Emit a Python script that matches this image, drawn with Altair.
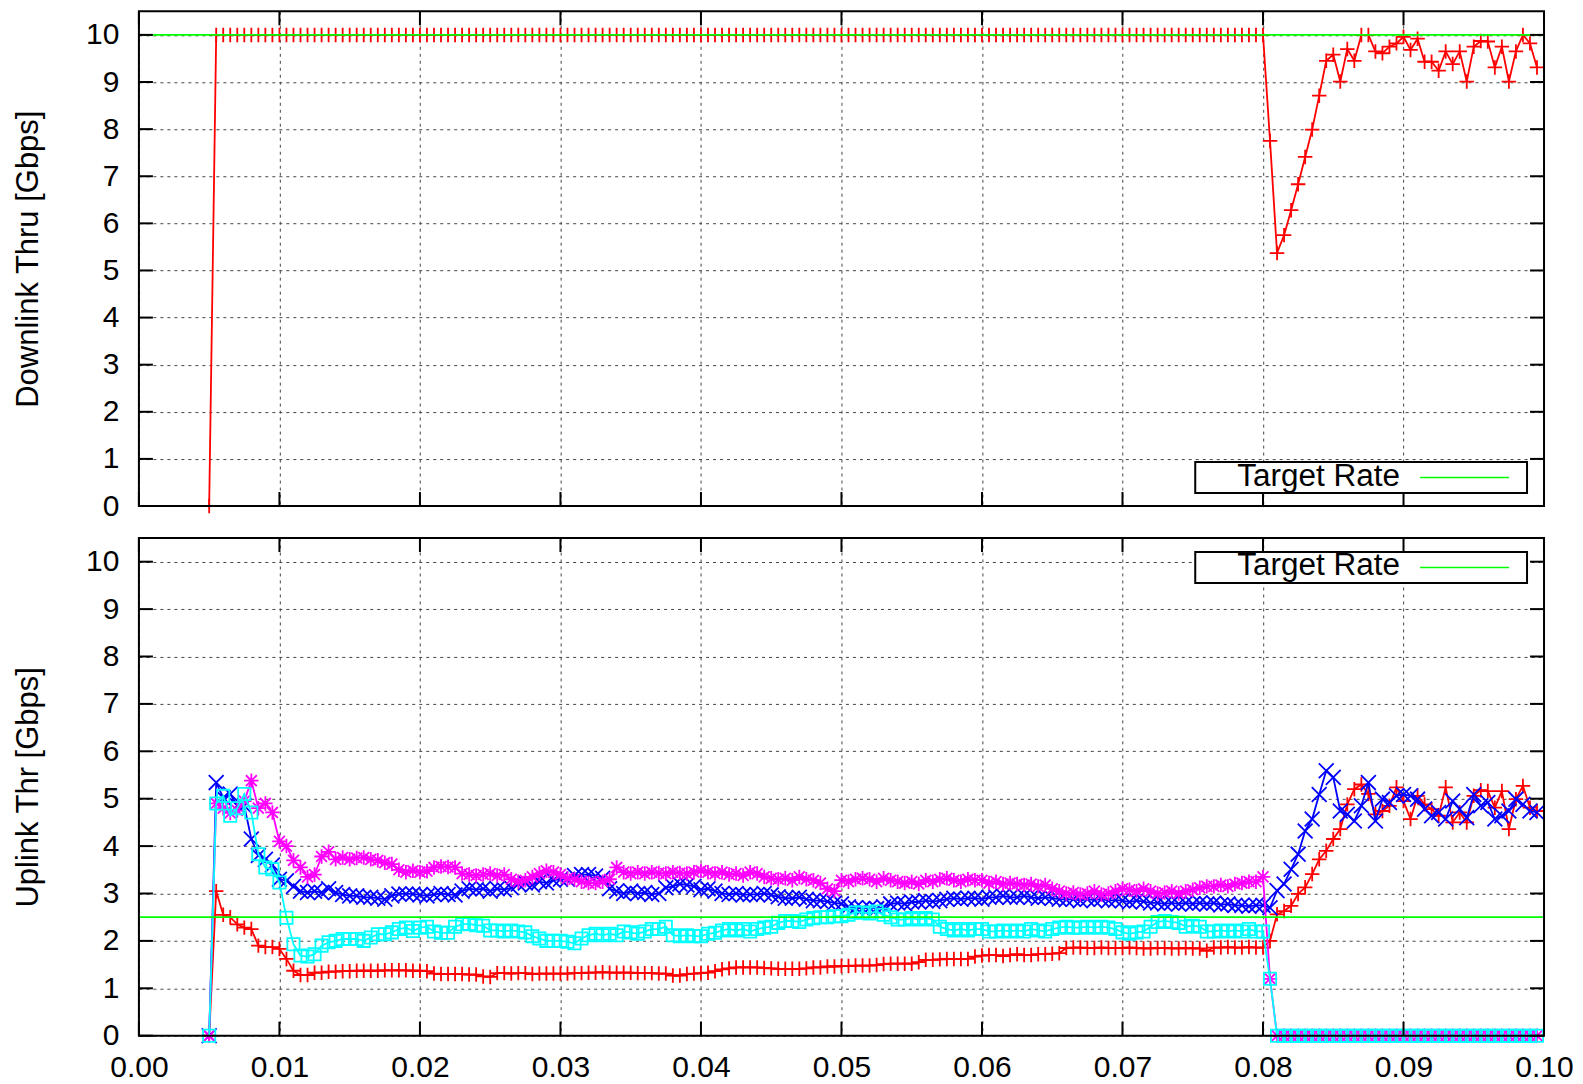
import altair as alt
import pandas as pd

# ---------------- data ----------------
T_START = 0.005
T_STEP = 0.0005

RED_DL = [
    0, 10, 10, 10, 10, 10, 10, 10, 10, 10,
    10, 10, 10, 10, 10, 10, 10, 10, 10, 10,
    10, 10, 10, 10, 10, 10, 10, 10, 10, 10,
    10, 10, 10, 10, 10, 10, 10, 10, 10, 10,
    10, 10, 10, 10, 10, 10, 10, 10, 10, 10,
    10, 10, 10, 10, 10, 10, 10, 10, 10, 10,
    10, 10, 10, 10, 10, 10, 10, 10, 10, 10,
    10, 10, 10, 10, 10, 10, 10, 10, 10, 10,
    10, 10, 10, 10, 10, 10, 10, 10, 10, 10,
    10, 10, 10, 10, 10, 10, 10, 10, 10, 10,
    10, 10, 10, 10, 10, 10, 10, 10, 10, 10,
    10, 10, 10, 10, 10, 10, 10, 10, 10, 10,
    10, 10, 10, 10, 10, 10, 10, 10, 10, 10,
    10, 10, 10, 10, 10, 10, 10, 10, 10, 10,
    10, 10, 10, 10, 10, 10, 10, 10, 10, 10,
    10, 7.75, 5.37, 5.75, 6.28, 6.83, 7.41, 7.99, 8.71, 9.45,
    9.58, 9.01, 9.70, 9.45, 10.0, 10.0, 9.65, 9.61, 9.75, 9.82,
    9.96, 9.68, 9.92, 9.43, 9.43, 9.24, 9.65, 9.38, 9.65, 9.01,
    9.75, 9.87, 9.86, 9.31, 9.75, 9.01, 9.65, 10.0, 9.82, 9.31,
]

RED_UL = [
    0, 3.05, 2.55, 2.50, 2.35, 2.28, 2.25, 1.90, 1.87, 1.87,
    1.83, 1.62, 1.37, 1.28, 1.28, 1.33, 1.33, 1.35, 1.35, 1.36,
    1.36, 1.37, 1.37, 1.37, 1.37, 1.38, 1.38, 1.38, 1.38, 1.37,
    1.37, 1.36, 1.31, 1.30, 1.30, 1.30, 1.30, 1.29, 1.29, 1.25,
    1.24, 1.32, 1.32, 1.31, 1.32, 1.32, 1.30, 1.31, 1.31, 1.31,
    1.31, 1.31, 1.32, 1.32, 1.33, 1.33, 1.34, 1.33, 1.33, 1.33,
    1.33, 1.32, 1.32, 1.32, 1.31, 1.31, 1.27, 1.27, 1.30, 1.31,
    1.32, 1.33, 1.36, 1.40, 1.42, 1.44, 1.44, 1.44, 1.44, 1.43,
    1.42, 1.41, 1.41, 1.41, 1.41, 1.42, 1.44, 1.44, 1.46, 1.46,
    1.47, 1.47, 1.48, 1.48, 1.48, 1.49, 1.51, 1.52, 1.52, 1.52,
    1.52, 1.55, 1.60, 1.60, 1.61, 1.62, 1.62, 1.62, 1.62, 1.67,
    1.69, 1.70, 1.70, 1.68, 1.70, 1.72, 1.70, 1.70, 1.72, 1.72,
    1.73, 1.74, 1.85, 1.86, 1.86, 1.85, 1.85, 1.86, 1.85, 1.85,
    1.85, 1.86, 1.85, 1.84, 1.84, 1.85, 1.85, 1.84, 1.84, 1.85,
    1.84, 1.84, 1.79, 1.86, 1.86, 1.87, 1.86, 1.86, 1.87, 1.86,
    1.86, 2.00, 2.56, 2.63, 2.74, 2.99, 3.13, 3.41, 3.72, 3.90,
    4.15, 4.36, 4.88, 5.20, 5.30, 5.10, 4.67, 4.74, 4.85, 5.24,
    4.95, 4.57, 5.06, 4.88, 4.78, 4.64, 5.24, 4.50, 4.71, 4.50,
    5.06, 5.18, 5.16, 4.81, 5.16, 4.36, 4.99, 5.27, 4.81, 4.74,
]

BLUE_UL = [
    0, 5.34, 5.02, 5.10, 4.85, 4.85, 4.15, 3.80, 3.72, 3.60,
    3.30, 3.27, 3.15, 3.05, 3.02, 3.05, 3.02, 3.10, 3.02, 2.98,
    2.95, 2.95, 2.92, 2.92, 2.90, 2.88, 2.95, 2.99, 2.99, 2.99,
    2.97, 2.95, 2.98, 3.00, 2.98, 2.97, 3.05, 3.10, 3.08, 3.10,
    3.05, 3.10, 3.08, 3.12, 3.20, 3.22, 3.18, 3.25, 3.22, 3.28,
    3.30, 3.30, 3.38, 3.40, 3.40, 3.37, 3.32, 3.10, 3.05, 3.00,
    3.05, 3.00, 3.02, 2.98, 3.00, 3.12, 3.15, 3.20, 3.18, 3.15,
    3.08, 3.10, 3.05, 3.00, 2.98, 3.00, 2.97, 2.98, 2.98, 3.00,
    2.97, 2.93, 2.90, 2.90, 2.92, 2.88, 2.85, 2.85, 2.83, 2.80,
    2.78, 2.72, 2.70, 2.68, 2.70, 2.68, 2.72, 2.78, 2.80, 2.78,
    2.82, 2.82, 2.85, 2.83, 2.85, 2.88, 2.90, 2.88, 2.90, 2.90,
    2.88, 2.92, 2.92, 2.95, 2.92, 2.92, 2.95, 2.92, 2.90, 2.92,
    2.90, 2.88, 2.87, 2.88, 2.85, 2.88, 2.86, 2.88, 2.85, 2.86,
    2.85, 2.82, 2.85, 2.83, 2.80, 2.80, 2.78, 2.80, 2.78, 2.80,
    2.78, 2.80, 2.78, 2.80, 2.76, 2.78, 2.75, 2.75, 2.73, 2.75,
    2.75, 2.70, 3.06, 3.20, 3.51, 3.83, 4.32, 4.57, 5.09, 5.59,
    5.45, 4.74, 4.67, 4.53, 4.85, 5.34, 4.53, 4.99, 4.92, 5.06,
    5.09, 5.06, 4.99, 4.78, 4.64, 4.71, 4.57, 4.95, 4.78, 4.60,
    5.09, 4.85, 4.92, 4.57, 4.64, 4.74, 4.99, 4.88, 4.74, 4.71,
]

MAGENTA_UL = [
    0, 4.90, 4.80, 4.70, 4.75, 4.95, 5.38, 4.80, 4.90, 4.71,
    4.10, 4.00, 3.70, 3.55, 3.35, 3.40, 3.78, 3.88, 3.72, 3.76,
    3.72, 3.75, 3.76, 3.72, 3.70, 3.65, 3.62, 3.50, 3.45, 3.48,
    3.45, 3.47, 3.55, 3.57, 3.56, 3.55, 3.42, 3.40, 3.38, 3.40,
    3.42, 3.38, 3.40, 3.30, 3.25, 3.28, 3.35, 3.42, 3.48, 3.45,
    3.40, 3.32, 3.30, 3.25, 3.22, 3.22, 3.25, 3.30, 3.55, 3.45,
    3.42, 3.45, 3.42, 3.45, 3.43, 3.42, 3.45, 3.43, 3.42, 3.45,
    3.48, 3.45, 3.42, 3.45, 3.40, 3.42, 3.38, 3.45, 3.42, 3.35,
    3.32, 3.30, 3.32, 3.28, 3.35, 3.30, 3.28, 3.22, 3.10, 3.05,
    3.28, 3.25, 3.30, 3.32, 3.30, 3.25, 3.32, 3.28, 3.25, 3.22,
    3.25, 3.20, 3.28, 3.25, 3.30, 3.32, 3.28, 3.25, 3.30, 3.28,
    3.28, 3.22, 3.25, 3.20, 3.22, 3.20, 3.18, 3.20, 3.15, 3.18,
    3.10, 3.05, 3.00, 3.02, 2.98, 3.00, 3.05, 2.98, 3.00, 3.05,
    3.10, 3.08, 3.05, 3.10, 3.05, 3.00, 3.02, 3.05, 3.00, 3.05,
    3.08, 3.12, 3.15, 3.15, 3.18, 3.15, 3.20, 3.22, 3.25, 3.25,
    3.35, 1.20, 0, 0, 0, 0, 0, 0, 0, 0,
    0, 0, 0, 0, 0, 0, 0, 0, 0, 0,
    0, 0, 0, 0, 0, 0, 0, 0, 0, 0,
    0, 0, 0, 0, 0, 0, 0, 0, 0, 0,
]

CYAN_UL = [
    0, 4.90, 5.06, 4.64, 4.80, 5.10, 4.71, 3.83, 3.55, 3.51,
    3.23, 2.49, 1.93, 1.69, 1.67, 1.72, 1.90, 1.97, 2.00, 2.04,
    2.04, 2.04, 2.00, 2.07, 2.14, 2.14, 2.18, 2.25, 2.28, 2.21,
    2.28, 2.30, 2.20, 2.17, 2.17, 2.30, 2.35, 2.36, 2.33, 2.32,
    2.22, 2.22, 2.20, 2.22, 2.20, 2.18, 2.10, 2.05, 2.00, 2.00,
    2.00, 1.98, 1.95, 2.05, 2.12, 2.15, 2.12, 2.15, 2.12, 2.20,
    2.18, 2.15, 2.20, 2.25, 2.25, 2.30, 2.12, 2.10, 2.12, 2.10,
    2.10, 2.15, 2.17, 2.22, 2.25, 2.22, 2.25, 2.20, 2.25, 2.28,
    2.30, 2.38, 2.42, 2.42, 2.40, 2.45, 2.48, 2.50, 2.50, 2.52,
    2.52, 2.55, 2.60, 2.60, 2.58, 2.62, 2.55, 2.50, 2.45, 2.45,
    2.48, 2.45, 2.48, 2.45, 2.30, 2.25, 2.22, 2.25, 2.22, 2.25,
    2.25, 2.20, 2.20, 2.22, 2.20, 2.22, 2.20, 2.25, 2.22, 2.20,
    2.25, 2.28, 2.30, 2.28, 2.28, 2.30, 2.28, 2.30, 2.28, 2.25,
    2.18, 2.15, 2.18, 2.20, 2.30, 2.40, 2.42, 2.40, 2.38, 2.30,
    2.32, 2.30, 2.20, 2.20, 2.22, 2.20, 2.22, 2.20, 2.25, 2.20,
    2.20, 1.20, 0, 0, 0, 0, 0, 0, 0, 0,
    0, 0, 0, 0, 0, 0, 0, 0, 0, 0,
    0, 0, 0, 0, 0, 0, 0, 0, 0, 0,
    0, 0, 0, 0, 0, 0, 0, 0, 0, 0,
]

TARGET_DL = [10.0]
TARGET_UL = [2.5]
LEGEND_LABELS = ["Target Rate"]
X_TICKS = [0.00, 0.01, 0.02, 0.03, 0.04, 0.05, 0.06, 0.07, 0.08, 0.09, 0.10]
Y_TICKS = [0, 1, 2, 3, 4, 5, 6, 7, 8, 9, 10]
Y_TITLES = ["Downlink Thru [Gbps]", "Uplink Thr [Gbps]"]

T = [round(T_START + T_STEP * i, 4) for i in range(len(RED_DL))]

# ---------------- style ----------------
FONT = "Liberation Sans"
FS = 30
W = 1406
H_TOP = 495
H_BOT = 498
TICK = 14
RED, BLUE, MAGENTA, CYAN, GREEN = "#ff0000", "#0000ff", "#ff00ff", "#00ffff", "#00ff00"
PLUS = "M-1,0L1,0M0,-1L0,1"
CROSS = "M-1,-1L1,1M-1,1L1,-1"
STAR = "M-1,0L1,0M0,-1L0,1M-0.75,-0.75L0.75,0.75M-0.75,0.75L0.75,-0.75"
SQUARE = "M-1,-1L1,-1L1,1L-1,1Z"
LW = 1.8
MW = 1.8


def xenc(labels):
    return alt.X(
        "t:Q",
        scale=alt.Scale(domain=[0, 0.1], nice=False, zero=False),
        axis=alt.Axis(
            values=X_TICKS, format=".2f", labels=labels, grid=True, ticks=False,
            tickSize=0, domain=False, labelPadding=17, labelFlush=False,
            labelOverlap=False, title=None,
        ),
    )


def yenc(title):
    return alt.Y(
        "v:Q",
        scale=alt.Scale(domain=[0, 10.5], nice=False, zero=False),
        axis=alt.Axis(
            values=Y_TICKS, format="d", grid=True, ticks=False, tickSize=0,
            domain=False, labelPadding=20, title=title, titlePadding=41,
            titleFontSize=31, labelOverlap=False,
        ),
    )


def panel(series, target, title, height, labels, legend_y):
    X = xenc(labels)
    Y = yenc(title)
    layers = []
    for vals, color, shape, size in series:
        df = pd.DataFrame({"t": T, "v": vals})
        base = alt.Chart(df)
        layers.append(base.mark_line(color=color, strokeWidth=LW).encode(x=X, y=Y))
        layers.append(
            base.mark_point(shape=shape, filled=False, color=color, size=size,
                            strokeWidth=MW, opacity=1).encode(x=X, y=Y)
        )
    layers.append(
        alt.Chart(pd.DataFrame({"v": target})).mark_rule(color=GREEN, strokeWidth=1.8).encode(y=Y)
    )
    yt = alt.Chart(pd.DataFrame({"v": Y_TICKS}))
    xt = alt.Chart(pd.DataFrame({"t": X_TICKS}))
    tick = dict(color="black", strokeWidth=2)
    layers.append(yt.mark_rule(**tick).encode(y=Y, x=alt.value(0), x2=alt.value(TICK)))
    layers.append(yt.mark_rule(**tick).encode(y=Y, x=alt.value(W - TICK), x2=alt.value(W)))
    layers.append(xt.mark_rule(**tick).encode(x=X, y=alt.value(height), y2=alt.value(height - TICK)))
    layers.append(xt.mark_rule(**tick).encode(x=X, y=alt.value(0), y2=alt.value(TICK)))

    leg = alt.Chart(pd.DataFrame({"label": LEGEND_LABELS}))
    layers.append(
        leg.mark_rect(fill="white", stroke="black", strokeWidth=2).encode(
            x=alt.value(1057), x2=alt.value(1389),
            y=alt.value(legend_y), y2=alt.value(legend_y + 31),
        )
    )
    layers.append(
        leg.mark_text(align="left", baseline="alphabetic", font=FONT, fontSize=31.5,
                      color="black").encode(
            x=alt.value(1099), y=alt.value(legend_y + 23.5), text="label:N"
        )
    )
    layers.append(
        leg.mark_rule(color=GREEN, strokeWidth=1.5).encode(
            x=alt.value(1282), x2=alt.value(1371), y=alt.value(legend_y + 15.5)
        )
    )
    layers.append(
        leg.mark_rect(fillOpacity=0, stroke="black", strokeWidth=2).encode(
            x=alt.value(0), x2=alt.value(W), y=alt.value(0), y2=alt.value(height)
        )
    )
    return alt.layer(*layers).properties(width=W, height=height)


top = panel(
    [(RED_DL, RED, PLUS, 210)],
    TARGET_DL, Y_TITLES[0], H_TOP, False, 451,
)
bottom = panel(
    [
        (RED_UL, RED, PLUS, 210),
        (BLUE_UL, BLUE, CROSS, 220),
        (MAGENTA_UL, MAGENTA, STAR, 210),
        (CYAN_UL, CYAN, SQUARE, 150),
    ],
    TARGET_UL, Y_TITLES[1], H_BOT, True, 14,
)

chart = (
    alt.vconcat(top, bottom, spacing=32, bounds="flush")
    .properties(padding={"left": 4, "top": 2, "right": 1, "bottom": 0})
    .configure(font=FONT)
    .configure_view(strokeWidth=0)
    .configure_axis(
        labelFont=FONT, titleFont=FONT, labelFontSize=FS, titleFontSize=31,
        titleFontWeight="normal", labelColor="black", titleColor="black",
        gridColor="#444444", gridDash=[3, 4], gridWidth=1, gridOpacity=1,
    )
)

chart.save("out.html", embed_options={"renderer": "svg", "actions": False})
